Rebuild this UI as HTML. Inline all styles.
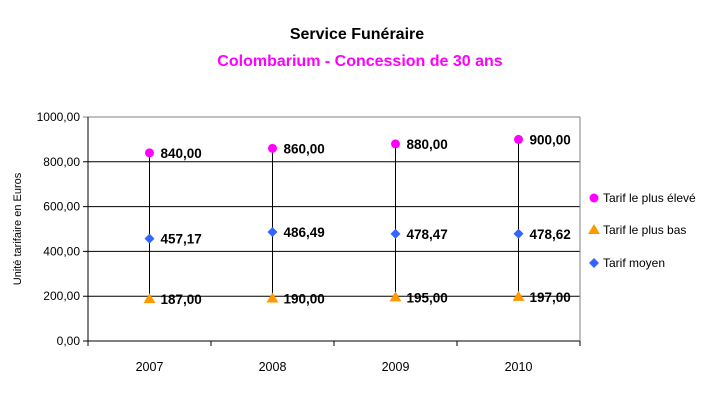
<!DOCTYPE html>
<html><head><meta charset="utf-8"><style>
body{margin:0;background:#fff;font-family:"Liberation Sans",sans-serif}
</style></head><body>
<svg width="721" height="404" xmlns="http://www.w3.org/2000/svg" font-family="Liberation Sans, sans-serif">
<text x="357" y="39" text-anchor="middle" font-size="16" font-weight="bold" fill="#000">Service Funéraire</text>
<text x="360" y="66" text-anchor="middle" font-size="16" font-weight="bold" fill="#ff00ff">Colombarium - Concession de 30 ans</text>
<text transform="translate(21,229) rotate(-90)" text-anchor="middle" font-size="11" fill="#000">Unité tarifaire en Euros</text>
<g id="grid"></g><g id="marks"></g>
<g>
<circle cx="594" cy="198" r="4.5" fill="#ff00ff"/>
<text x="603" y="202" font-size="12">Tarif le plus élevé</text>
<polygon points="594,224 600,234 588,234" fill="#ff9900"/>
<text x="603" y="234" font-size="12">Tarif le plus bas</text>
<polygon points="594,258 599,263 594,268 589,263" fill="#3366ff"/>
<text x="603" y="267" font-size="12">Tarif moyen</text>
</g>
</svg>
<script>
const categories=["2007","2008","2009","2010"];
const highValues=[840,860,880,900];
const lowValues=[187,190,195,197];
const avgValues=[457.17,486.49,478.47,478.62];
const yTicks=[0,200,400,600,800,1000];
const NS="http://www.w3.org/2000/svg";
const L=88,R=580,T=117,B=341;
const y=v=>B-(v/1000)*(B-T);
const band=(R-L)/categories.length;
const x=i=>L+band*(i+0.5);
const fmt=v=>v.toFixed(2).replace('.',',');
function mk(tag,a,p){const e=document.createElementNS(NS,tag);for(const k in a)e.setAttribute(k,a[k]);p.appendChild(e);return e;}
const g=document.getElementById('grid'),m=document.getElementById('marks');
yTicks.forEach(v=>{
 const l=mk('line',{x1:L-5,x2:R,y1:y(v),y2:y(v),stroke:v===1000?'#808080':'#000','stroke-width':1},g);
 
 
 const t=mk('text',{x:L-8,y:y(v)+4,'text-anchor':'end','font-size':12},g);t.textContent=fmt(v);
 
 
});
mk('line',{x1:L,x2:L,y1:T,y2:B+5,stroke:'#000'},g);
mk('line',{x1:R,x2:R,y1:T,y2:B,stroke:'#808080'},g);
categories.forEach((c,i)=>{
 const tk=mk('line',{x1:L+band*(i+1),x2:L+band*(i+1),y1:B,y2:B+5,stroke:'#000'},g);
 
 
 const t=mk('text',{x:x(i),y:371,'text-anchor':'middle','font-size':12.5},g);t.textContent=c;
 
 
 const cx=x(i);
 const hl=mk('line',{x1:cx,x2:cx,y1:y(highValues[i]),y2:y(lowValues[i]),stroke:'#000'},m);
 
 
 const h=mk('circle',{cx:cx,cy:y(highValues[i]),r:4.5,fill:'#ff00ff'},m);
 
 
 const yl=y(lowValues[i]);
 const lo=mk('polygon',{points:`${cx},${yl-6} ${cx+6},${yl+4} ${cx-6},${yl+4}`,fill:'#ff9900'},m);
 
 
 const ya=y(avgValues[i]);
 const a=mk('polygon',{points:`${cx},${ya-5} ${cx+5},${ya} ${cx},${ya+5} ${cx-5},${ya}`,fill:'#3366ff'},m);
 
 
 [[highValues[i],'high'],[avgValues[i],'avg'],[lowValues[i],'low']].forEach(([v,n])=>{
  const t=mk('text',{x:cx+11,y:y(v)+5,'font-size':13.5,'font-weight':'bold'},m);t.textContent=fmt(v);
  
  
 });
});
</script>
</body></html>
